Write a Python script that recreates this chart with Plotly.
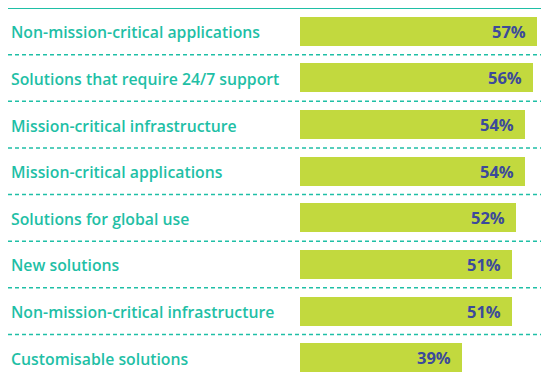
import plotly.graph_objects as go

categories = [
    "Non-mission-critical applications",
    "Solutions that require 24/7 support",
    "Mission-critical infrastructure",
    "Mission-critical applications",
    "Solutions for global use",
    "New solutions",
    "Non-mission-critical infrastructure",
    "Customisable solutions",
]
values = [57, 56, 54, 54, 52, 51, 51, 39]
value_labels = ["57%", "56%", "54%", "54%", "52%", "51%", "51%", "39%"]

W, H = 541, 381
TEAL = "#1fbfa6"
LIME = "#c2d93e"
NAVY = "#3c4a9b"

ypos = list(range(len(categories)))

fig = go.Figure()
fig.add_trace(go.Bar(
    x=values, y=ypos, orientation="h",
    marker=dict(color=LIME, line=dict(width=0)),
    width=0.62, hoverinfo="skip",
))

annotations = []
for i, (c, v, t) in enumerate(zip(categories, values, value_labels)):
    annotations.append(dict(
        x=9 / W, xref="paper", y=i, yref="y", text=c, showarrow=False,
        xanchor="left", yanchor="middle", yshift=-1,
        font=dict(family="Open Sans", size=15.8, color=TEAL, weight=600),
    ))
    annotations.append(dict(
        x=v, xref="x", y=i, yref="y", text=t, showarrow=False,
        xanchor="right", yanchor="middle", xshift=-9,
        font=dict(family="Open Sans", size=16.5, color=NAVY, weight=700),
    ))

shapes = [dict(type="line", xref="paper", yref="y", x0=8 / W, x1=1,
               y0=-0.5, y1=-0.5, line=dict(color=TEAL, width=2))]
for i in range(len(categories) - 1):
    shapes.append(dict(type="line", xref="paper", yref="y", x0=8 / W, x1=1,
                       y0=i + 0.5, y1=i + 0.5,
                       line=dict(color=TEAL, width=1.5, dash="4px,3px")))

fig.update_layout(
    width=W, height=H,
    margin=dict(l=0, r=0, t=0, b=0),
    paper_bgcolor="white", plot_bgcolor="white",
    showlegend=False,
    xaxis=dict(domain=[300 / W, 1], range=[0, 57.9], visible=False, fixedrange=True),
    yaxis=dict(domain=[0, 1 - 8 / H], range=[7.5, -0.5], visible=False, fixedrange=True),
    annotations=annotations,
    shapes=shapes,
    bargap=0,
)

fig.write_html(
    "out.html",
    config={"displayModeBar": False},
    post_script="document.body.style.margin='0';document.body.style.overflow='hidden';",
)
